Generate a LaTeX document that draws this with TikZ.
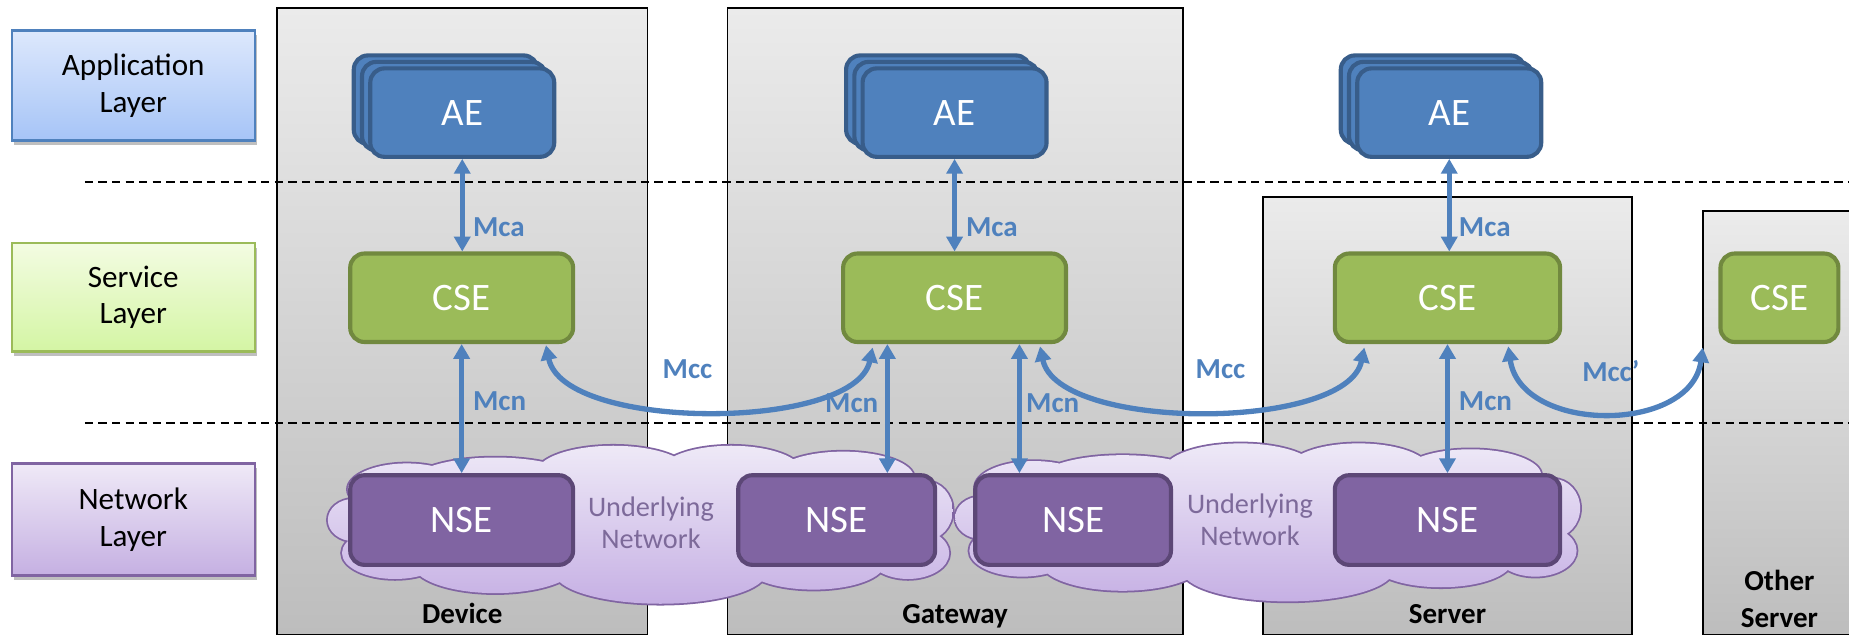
\documentclass[tikz,border=0pt]{standalone}
\usepackage{fontspec}
\setmainfont{Carlito}
\usetikzlibrary{arrows.meta,calc,shadows}
\definecolor{aeF}{HTML}{4F81BD}
\definecolor{aeD}{HTML}{385D8A}
\definecolor{cseF}{HTML}{9BBB59}
\definecolor{cseD}{HTML}{71893F}
\definecolor{nseF}{HTML}{8064A2}
\definecolor{nseD}{HTML}{5C4776}
\definecolor{arrC}{HTML}{4F81BD}
\definecolor{tierT}{HTML}{EBEBEB}
\definecolor{tierB}{HTML}{BDBDBD}
\definecolor{appT}{HTML}{DDE8FC}
\definecolor{appB}{HTML}{A6C4F7}
\definecolor{appD}{HTML}{4F81BD}
\definecolor{svcT}{HTML}{F3FCE2}
\definecolor{svcB}{HTML}{D4F5A4}
\definecolor{svcD}{HTML}{9BBB59}
\definecolor{netT}{HTML}{EFE9F7}
\definecolor{netB}{HTML}{C5B0E2}
\definecolor{netD}{HTML}{8064A2}
\definecolor{cloudT}{HTML}{EEE9F7}
\definecolor{cloudB}{HTML}{C6B0E4}
\definecolor{cloudTxt}{HTML}{7D6A9A}
\newcommand{\cloudshape}{%
  (-243,-4) ellipse [x radius=22pt, y radius=18pt]
  (-208,24) ellipse [x radius=45pt, y radius=22pt]
  (-198,-30) ellipse [x radius=50pt, y radius=22pt]
  (-123,-37) ellipse [x radius=70pt, y radius=20pt]
  (-23,-44) ellipse [x radius=65pt, y radius=23pt]
  (77,-45) ellipse [x radius=60pt, y radius=22pt]
  (172,-40) ellipse [x radius=60pt, y radius=22pt]
  (242,-12) ellipse [x radius=23pt, y radius=25pt]
  (227,24) ellipse [x radius=35pt, y radius=22pt]
  (147,33) ellipse [x radius=60pt, y radius=22pt]
  (17,40) ellipse [x radius=90pt, y radius=27pt]
  (-123,33) ellipse [x radius=70pt, y radius=25pt]
  (0,0) ellipse [x radius=240pt, y radius=45pt]}
\begin{document}
\begin{tikzpicture}[x=1pt,y=-1pt,
  tier/.style={rectangle, draw=black, line width=1.5pt, top color=tierT, bottom color=tierB, inner sep=0pt},
  tierlbl/.style={font=\bfseries\fontsize{24.6}{31}\selectfont, inner sep=0pt, align=center},
  layer/.style={rectangle, line width=2pt, minimum width=206pt, align=center,
    font=\fontsize{26.4}{31}\selectfont, inner sep=0pt,
    drop shadow={shadow xshift=2pt, shadow yshift=-4pt, opacity=0.25, fill=black}},
  layerline/.style={draw=black, line width=1.8pt, dash pattern=on 7pt off 4.5pt},
  entbox/.style={rectangle, rounded corners=12pt, line width=3.5pt, text=white,
    font=\fontsize{33}{36}\selectfont, inner sep=0pt, minimum height=75pt},
  aebox/.style={entbox, fill=aeF, draw=aeD, minimum width=156pt},
  csebox/.style={entbox, fill=cseF, draw=cseD},
  nsebox/.style={entbox, fill=nseF, draw=nseD, minimum height=76pt},
  netcloud/.pic={
    \path[draw=netD, line width=3pt] \cloudshape;
    \path[top color=cloudT, bottom color=cloudB] \cloudshape;
  },
  nettxt/.style={text=cloudTxt, font=\fontsize{24}{27}\selectfont, align=center, inner sep=0pt},
  conn/.style={draw=arrC, line width=4.5pt,
    {Triangle[width=13.5pt,length=12.5pt]}-{Triangle[width=13.5pt,length=12.5pt]}},
  mlbl/.style={text=arrC, font=\bfseries\fontsize{24.6}{28}\selectfont, inner sep=0pt}
]
\useasboundingbox (0,0) rectangle (1568,540);

% tiers
\node[tier, minimum width=314pt, minimum height=531pt] (dev) at (392,272.5) {};
\node[tier, minimum width=386pt, minimum height=531pt] (gw) at (810,272.5) {};
\node[tier, minimum width=313pt, minimum height=371pt] (srv) at (1227.5,352.5) {};
\node[tier, minimum width=160pt, minimum height=359pt] (oth) at (1524,358.5) {};
\node[tierlbl, anchor=base] (devL) at ([yshift=10pt]dev.south) {Device};
\node[tierlbl, anchor=base] (gwL) at ([yshift=10pt]gw.south) {Gateway};
\node[tierlbl, anchor=base] (srvL) at ([yshift=10pt]srv.south) {Server};
\node[tierlbl] (othL) at (1509,508) {Other\\Server};

% layer separators
\coordinate (d1a) at (72,154);  \coordinate (d1b) at (1568,154);
\coordinate (d2a) at (72,359);  \coordinate (d2b) at (1568,359);
\draw[layerline] (d1a) -- (d1b);
\draw[layerline] (d2a) -- (d2b);

% layer labels
\node[layer, top color=appT, bottom color=appB, draw=appD, minimum height=93pt] (app) at (113,72.5) {Application\\Layer};
\node[layer, top color=svcT, bottom color=svcB, draw=svcD, minimum height=92pt] (svc) at (113,252) {Service\\Layer};
\node[layer, top color=netT, bottom color=netB, draw=netD, minimum height=95pt] (net) at (113,440.5) {Network\\Layer};

% clouds
\pic (cl1) at (543,445) {netcloud};
\pic (cl2) at (1075,443) {netcloud};
\node[nettxt] (cl1t) at (552,443) {Underlying\\Network};
\node[nettxt] (cl2t) at (1060,441) {Underlying\\Network};

% AE stacks
\foreach \n/\x in {D/392, G/809.5, S/1229} {
  \node[aebox] (ae\n3) at (\x-14, 84.5) {};
  \node[aebox] (ae\n2) at (\x-7, 90) {};
  \node[aebox] (ae\n) at (\x, 95.5) {AE};
}

% CSE
\node[csebox, minimum width=189pt] (cseD) at (391.5,252.5) {CSE};
\node[csebox, minimum width=189pt] (cseG) at (809.5,252.5) {CSE};
\node[csebox, minimum width=191pt] (cseS) at (1227.5,252.5) {CSE};
\node[csebox, minimum width=100pt] (cseO) at (1509,252.5) {CSE};

% NSE
\node[nsebox, minimum width=189pt] (nseD) at (391.5,441) {NSE};
\node[nsebox, minimum width=167pt] (nseG1) at (709.5,441) {NSE};
\node[nsebox, minimum width=166pt] (nseG2) at (910,441) {NSE};
\node[nsebox, minimum width=191pt] (nseS) at (1227.5,441) {NSE};

% Mca
\draw[conn] (aeD.south) -- (aeD.south |- cseD.north);
\draw[conn] (aeG.south) -- (aeG.south |- cseG.north);
\draw[conn] (aeS.south) -- (aeS.south |- cseS.north);

% Mcn
\draw[conn] (cseD.south) -- (cseD.south |- nseD.north);
\coordinate (g1) at ([xshift=-57pt]cseG.south);
\coordinate (g2) at ([xshift=55pt]cseG.south);
\draw[conn] (g1) -- (g1 |- nseG1.north);
\draw[conn] (g2) -- (g2 |- nseG2.north);
\draw[conn] (cseS.south) -- (cseS.south |- nseS.north);

% Mcc
\draw[conn] ($(cseD.south)+(71.5,1)$) .. controls (478,366) and (725,366) .. ($(cseG.south)+(-69.5,3)$);
\draw[conn] ($(cseG.south)+(72.5,2)$) .. controls (897,366) and (1142,366) .. ($(cseS.south)+(-70.5,3)$);
\draw[conn] ($(cseS.south)+(51.5,2)$) .. controls (1290,368) and (1434,368) .. ($(cseO.south)+(-65,3)$);

% labels
\node[mlbl, anchor=west] (mcaD) at (401,193) {Mca};
\node[mlbl, anchor=west] (mcaG) at (819,193) {Mca};
\node[mlbl, anchor=west] (mcaS) at (1237,193) {Mca};
\node[mlbl, anchor=west] (mcnD) at (401,340) {Mcn};
\node[mlbl, anchor=east] (mcnG1) at (745,342) {Mcn};
\node[mlbl, anchor=west] (mcnG2) at (870,342) {Mcn};
\node[mlbl, anchor=west] (mcnS) at (1237,340) {Mcn};
\node[mlbl] (mcc1) at (583,313) {Mcc};
\node[mlbl] (mcc2) at (1035,313) {Mcc};
\node[mlbl] (mcc3) at (1366,315) {Mcc’};
\end{tikzpicture}
\end{document}
